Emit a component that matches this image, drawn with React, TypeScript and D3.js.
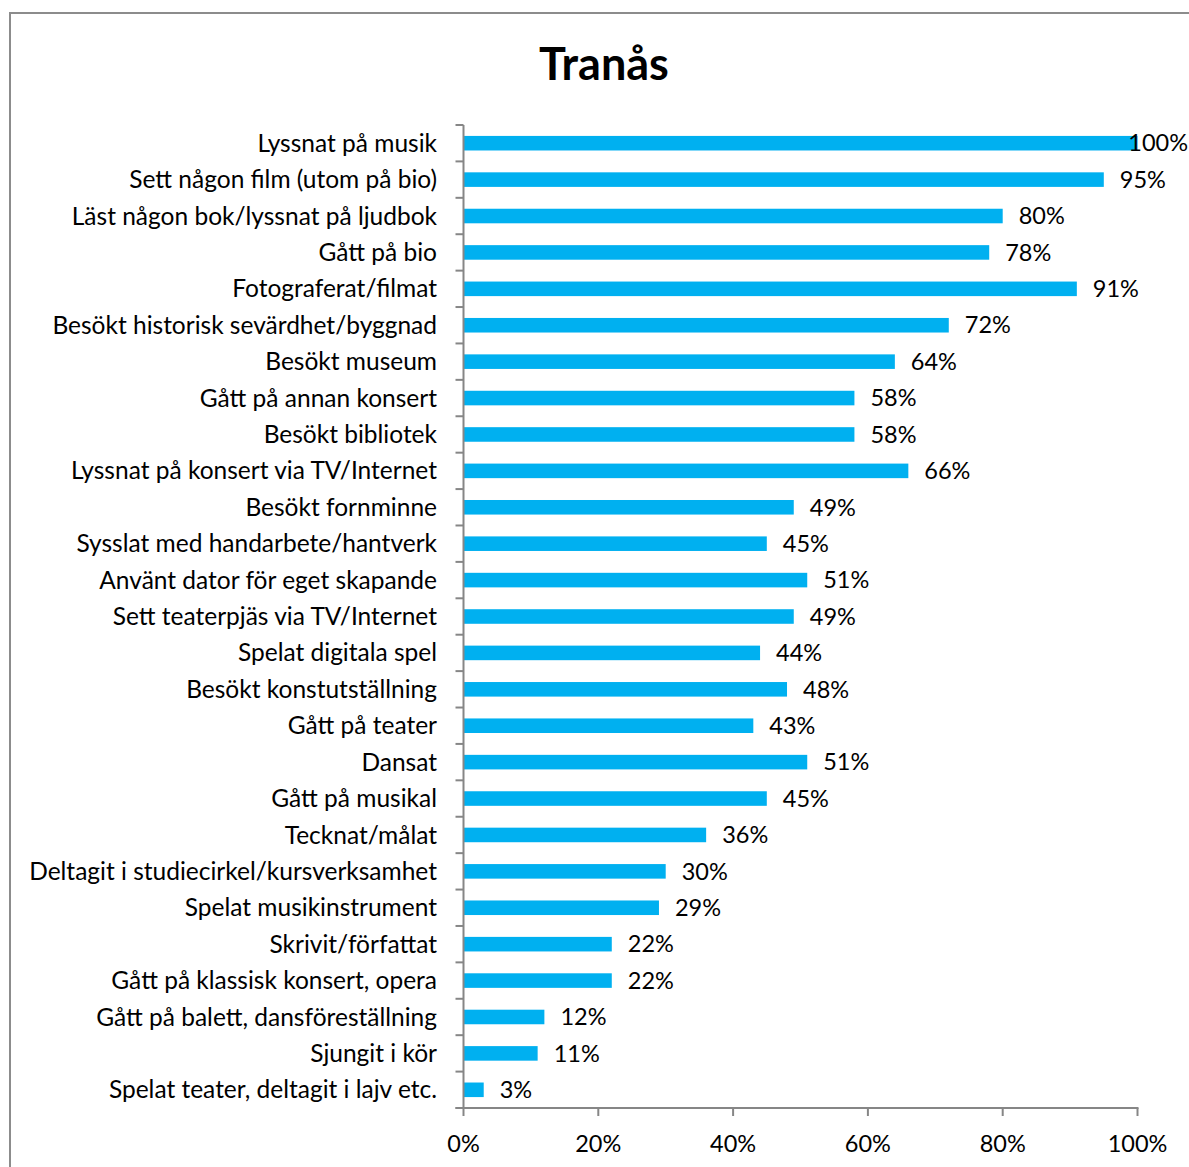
import React, { useEffect, useRef } from "react";
import * as d3 from "d3";

const categories = [
  "Lyssnat på musik",
  "Sett någon film (utom på bio)",
  "Läst någon bok/lyssnat på ljudbok",
  "Gått på bio",
  "Fotograferat/filmat",
  "Besökt historisk sevärdhet/byggnad",
  "Besökt museum",
  "Gått på annan konsert",
  "Besökt bibliotek",
  "Lyssnat på konsert via TV/Internet",
  "Besökt fornminne",
  "Sysslat med handarbete/hantverk",
  "Använt dator för eget skapande",
  "Sett teaterpjäs via TV/Internet",
  "Spelat digitala spel",
  "Besökt konstutställning",
  "Gått på teater",
  "Dansat",
  "Gått på musikal",
  "Tecknat/målat",
  "Deltagit i studiecirkel/kursverksamhet",
  "Spelat musikinstrument",
  "Skrivit/författat",
  "Gått på klassisk konsert, opera",
  "Gått på balett, dansföreställning",
  "Sjungit i kör",
  "Spelat teater, deltagit i lajv etc.",
];

const values = [
  100, 95, 80, 78, 91, 72, 64, 58, 58, 66, 49, 45, 51, 49, 44, 48, 43, 51, 45,
  36, 30, 29, 22, 22, 12, 11, 3,
];

const xTicks = [0, 20, 40, 60, 80, 100];

const title = "Tranås";

const W = 1189;
const H = 1167;
const FONT = "Lato, 'Open Sans', sans-serif";

export default function App() {
  const ref = useRef<SVGSVGElement>(null);

  useEffect(() => {
    const svg = d3.select(ref.current);
    svg.selectAll("*").remove();

    const left = 463.5;
    const right = 1137.5;
    const top = 125;
    const bottom = 1108;

    // chart frame
    svg
      .append("rect")
      .attr("x", 10)
      .attr("y", 13)
      .attr("width", 1200)
      .attr("height", 1200)
      .attr("fill", "white")
      .attr("stroke", "#8c8c8c")
      .attr("stroke-width", 2);

    svg
      .append("text")
      .attr("x", 604)
      .attr("y", 80)
      .attr("text-anchor", "middle")
      .attr("font-family", FONT)
      .attr("font-weight", "bold")
      .attr("font-size", 45)
      .attr("fill", "#000")
      .text(title);

    const x = d3.scaleLinear().domain([0, 100]).range([left, right]);
    const y = d3
      .scaleBand()
      .domain(categories)
      .range([top, bottom])
      .paddingInner(0.6)
      .paddingOuter(0.3);

    const step = y.step();

    // bars
    svg
      .append("g")
      .selectAll("rect")
      .data(values)
      .join("rect")
      .attr("x", x(0))
      .attr("y", (_d, i) => y(categories[i])!)
      .attr("width", (d) => x(d) - x(0))
      .attr("height", y.bandwidth())
      .attr("fill", "#00b0f0");

    // y axis
    const axisColor = "#868686";
    svg
      .append("line")
      .attr("x1", left)
      .attr("x2", left)
      .attr("y1", top)
      .attr("y2", bottom)
      .attr("stroke", axisColor)
      .attr("stroke-width", 2);
    d3.range(categories.length + 1).forEach((i) => {
      svg
        .append("line")
        .attr("x1", left - 8)
        .attr("x2", left)
        .attr("y1", top + i * step)
        .attr("y2", top + i * step)
        .attr("stroke", axisColor)
        .attr("stroke-width", 2);
    });

    // x axis
    svg
      .append("line")
      .attr("x1", left - 8)
      .attr("x2", right + 1)
      .attr("y1", bottom)
      .attr("y2", bottom)
      .attr("stroke", axisColor)
      .attr("stroke-width", 2);
    xTicks.forEach((t) => {
      svg
        .append("line")
        .attr("x1", x(t))
        .attr("x2", x(t))
        .attr("y1", bottom)
        .attr("y2", bottom + 8)
        .attr("stroke", axisColor)
        .attr("stroke-width", 2);
      svg
        .append("text")
        .attr("x", x(t))
        .attr("y", 1152)
        .attr("text-anchor", "middle")
        .attr("font-family", FONT)
        .attr("font-size", 23.5)
        .attr("fill", "#000")
        .text(`${t}%`);
    });

    // category labels
    svg
      .append("g")
      .selectAll("text")
      .data(categories)
      .join("text")
      .attr("x", 437)
      .attr("y", (d) => y(d)! + y.bandwidth() / 2)
      .attr("dy", "0.35em")
      .attr("text-anchor", "end")
      .attr("font-family", FONT)
      .attr("font-size", 24.5)
      .attr("fill", "#000")
      .text((d) => d);

    // value labels
    svg
      .append("g")
      .selectAll("text")
      .data(values)
      .join("text")
      .attr("y", (_d, i) => y(categories[i])! + y.bandwidth() / 2)
      .attr("dy", "0.35em")
      .attr("font-family", FONT)
      .attr("font-size", 23.5)
      .attr("fill", "#000")
      .text((d) => `${d}%`)
      .attr("x", function (d) {
        const w = (this as SVGTextElement).getComputedTextLength();
        return Math.min(x(d) + 16, W - 1 - w);
      });
  }, []);

  return (
    <svg
      ref={ref}
      width={W}
      height={H}
      style={{ position: "absolute", left: 0, top: 0, display: "block" }}
    />
  );
}
